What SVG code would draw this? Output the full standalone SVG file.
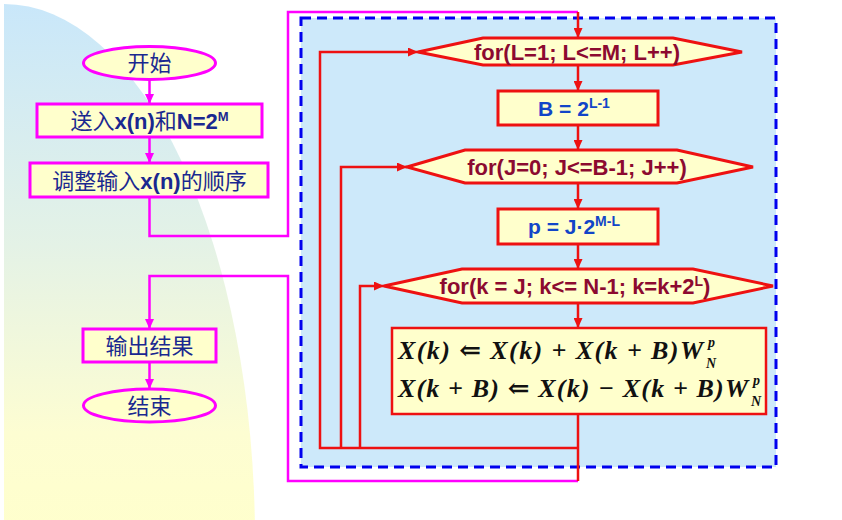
<svg xmlns="http://www.w3.org/2000/svg" width="842" height="520" viewBox="0 0 842 520">
<defs>
<linearGradient id="bg" x1="0" y1="0" x2="0" y2="1">
<stop offset="0" stop-color="#c9e7fa"/>
<stop offset="0.45" stop-color="#e4f2e6"/>
<stop offset="0.8" stop-color="#fdfdd2"/>
<stop offset="1" stop-color="#ffffcc"/>
</linearGradient>
<marker id="am" markerUnits="userSpaceOnUse" markerWidth="10" markerHeight="9" refX="10" refY="4.5" orient="auto"><path d="M0,0 L10,4.5 L0,9 z" fill="#ff00ff"/></marker>
<marker id="ar" markerUnits="userSpaceOnUse" markerWidth="10" markerHeight="9" refX="10" refY="4.5" orient="auto"><path d="M0,0 L10,4.5 L0,9 z" fill="#ee1111"/></marker>
<style>
.mbox{fill:#ffffcc;stroke:#ff00ff;stroke-width:3}
.rbox{fill:#ffffcc;stroke:#ee1111;stroke-width:3}
.mline{fill:none;stroke:#ff00ff;stroke-width:2.5}
.rline{fill:none;stroke:#ee1111;stroke-width:2.5}
.lt{font-family:"Liberation Sans","Noto Sans CJK SC",sans-serif;font-size:22px;fill:#1a2890;text-anchor:middle}
.lb{font-weight:bold}
.ft{font-family:"Liberation Sans",Arial,sans-serif;font-weight:bold;font-size:22px;fill:#8c0a30;text-anchor:middle}
.bt{font-family:"Liberation Sans",Arial,sans-serif;font-weight:bold;font-size:21px;fill:#1245c8;text-anchor:middle}
.mt{font-family:"Liberation Serif","DejaVu Serif",serif;font-weight:bold;font-style:italic;font-size:26px;fill:#111111}
.ms{font-family:"Liberation Serif","DejaVu Serif",serif;font-weight:bold;font-style:italic;font-size:14px;fill:#111111}
</style>
</defs>
<rect x="0" y="0" width="842" height="520" fill="#ffffff"/>
<path d="M4,4 A251,536 0 0 1 255,540 L4,540 Z" fill="url(#bg)"/>
<rect id="loop-region" x="301" y="18" width="475" height="449" fill="#cde9fa" stroke="#0000ee" stroke-width="3" stroke-dasharray="10,6"/>
<g id="connectors">
<line class="mline" x1="149.5" y1="80" x2="149.5" y2="104" marker-end="url(#am)"/>
<line class="mline" x1="149.5" y1="137" x2="149.5" y2="163" marker-end="url(#am)"/>
<path class="mline" d="M149.5,197 V236 H288 V12 H578"/>
<path class="mline" d="M578,481 H288 V276 H149.5 V329" marker-end="url(#am)"/>
<line class="mline" x1="149.5" y1="362" x2="149.5" y2="389" marker-end="url(#am)"/>
<line class="rline" x1="578" y1="12" x2="578" y2="38" marker-end="url(#ar)"/>
<line class="rline" x1="578" y1="65" x2="578" y2="91" marker-end="url(#ar)"/>
<line class="rline" x1="578" y1="125" x2="578" y2="150" marker-end="url(#ar)"/>
<line class="rline" x1="578" y1="183" x2="578" y2="209" marker-end="url(#ar)"/>
<line class="rline" x1="578" y1="244" x2="578" y2="269" marker-end="url(#ar)"/>
<line class="rline" x1="578" y1="303" x2="578" y2="328" marker-end="url(#ar)"/>
<path class="rline" d="M578,414 V481"/>
<path class="rline" d="M578,448 H320 V52 H418" marker-end="url(#ar)"/>
<path class="rline" d="M341,448 V167 H407" marker-end="url(#ar)"/>
<path class="rline" d="M360,448 V286 H384" marker-end="url(#ar)"/>
</g>
<g id="start">
<ellipse class="mbox" cx="149.5" cy="63" rx="66" ry="16.5"/>
<text class="lt" x="149.5" y="71">开始</text>
</g>
<g id="input">
<rect class="mbox" x="37" y="104" width="225" height="33"/>
<text class="lt" x="149.5" y="128.5">送入<tspan class="lb">x(n)</tspan>和<tspan class="lb">N=2<tspan dy="-8" font-size="13">M</tspan></tspan></text>
</g>
<g id="reorder">
<rect class="mbox" x="30" y="163" width="238" height="34"/>
<text class="lt" x="149.5" y="188.5">调整输入<tspan class="lb">x(n)</tspan>的顺序</text>
</g>
<g id="output">
<rect class="mbox" x="83" y="329" width="133" height="33"/>
<text class="lt" x="149.5" y="353.5">输出结果</text>
</g>
<g id="end">
<ellipse class="mbox" cx="149.5" cy="405.5" rx="66" ry="16.5"/>
<text class="lt" x="149.5" y="413.5">结束</text>
</g>
<g id="loop-L">
<polygon class="rbox" points="418,52 483,38 673,38 742,52 673,65 483,65"/>
<text class="ft" x="577" y="60">for(L=1; L&lt;=M; L++)</text>
</g>
<g id="calc-B">
<rect class="rbox" x="498" y="91" width="160" height="34"/>
<text class="bt" x="574" y="116">B = 2<tspan dy="-8" font-size="14">L-1</tspan></text>
</g>
<g id="loop-J">
<polygon class="rbox" points="407,167 465,150 677,150 753,167 677,183 465,183"/>
<text class="ft" x="577" y="175">for(J=0; J&lt;=B-1; J++)</text>
</g>
<g id="calc-p">
<rect class="rbox" x="498" y="209" width="160" height="35"/>
<text class="bt" x="574" y="234">p = J·2<tspan dy="-8" font-size="14">M-L</tspan></text>
</g>
<g id="loop-k">
<polygon class="rbox" points="384,286 462,269 693,269 773,286 693,303 462,303"/>
<text class="ft" x="575" y="294">for(k = J; k&lt;= N-1; k=k+2<tspan dy="-8" font-size="14">L</tspan><tspan dy="8">)</tspan></text>
</g>
<g id="butterfly">
<rect x="392" y="328" width="374" height="86" fill="#ffffcc" stroke="#ee1111" stroke-width="2.5"/>
<text class="mt" x="398" y="359" textLength="305" lengthAdjust="spacing">X(k) ⇐ X(k) + X(k + B)W</text>
<text class="ms" x="708" y="347">p</text>
<text class="ms" x="706" y="368">N</text>
<text class="mt" x="398" y="397" textLength="350" lengthAdjust="spacing">X(k + B) ⇐ X(k) − X(k + B)W</text>
<text class="ms" x="753" y="385">p</text>
<text class="ms" x="751" y="406">N</text>
</g>
</svg>
